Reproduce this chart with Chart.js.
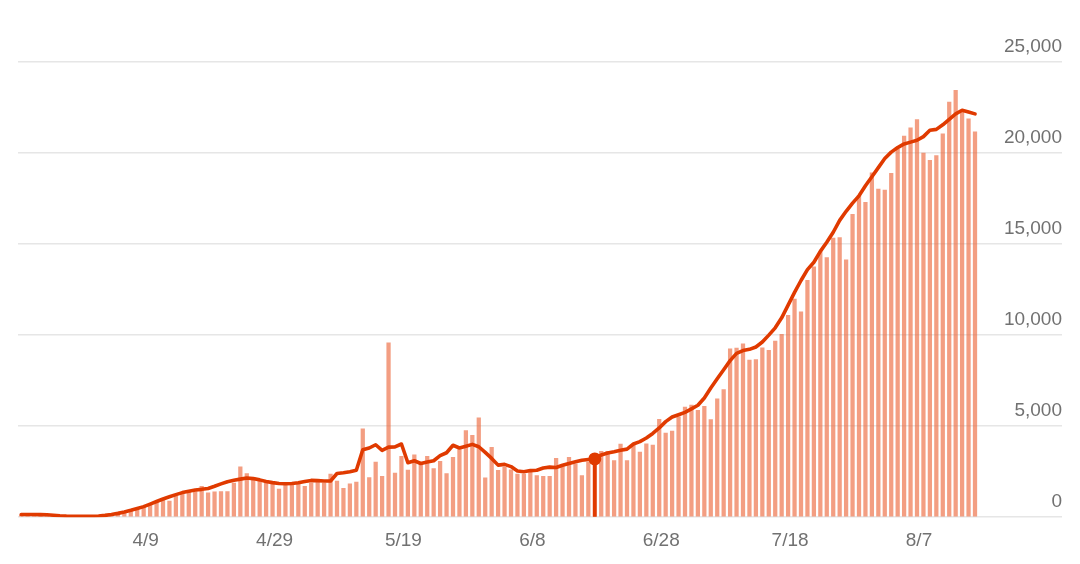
<!DOCTYPE html>
<html>
<head>
<meta charset="utf-8">
<script src="https://cdn.jsdelivr.net/npm/chart.js@4.4.1/dist/chart.umd.min.js"></script>
<style>
  html, body { margin: 0; padding: 0; background: #ffffff; }
  #wrap { width: 1080px; height: 564px; position: relative; }
</style>
</head>
<body>
<div id="wrap"><canvas id="c"></canvas></div>
<script>
// Categories: one per day, 3/21 .. 8/29 (axis runs past the last data day)
const marchDays  = ["3/21","3/22","3/23","3/24","3/25","3/26","3/27","3/28","3/29","3/30","3/31"];
const aprilDays  = ["4/1","4/2","4/3","4/4","4/5","4/6","4/7","4/8","4/9","4/10","4/11","4/12","4/13","4/14","4/15","4/16","4/17","4/18","4/19","4/20","4/21","4/22","4/23","4/24","4/25","4/26","4/27","4/28","4/29","4/30"];
const mayDays    = ["5/1","5/2","5/3","5/4","5/5","5/6","5/7","5/8","5/9","5/10","5/11","5/12","5/13","5/14","5/15","5/16","5/17","5/18","5/19","5/20","5/21","5/22","5/23","5/24","5/25","5/26","5/27","5/28","5/29","5/30","5/31"];
const juneDays   = ["6/1","6/2","6/3","6/4","6/5","6/6","6/7","6/8","6/9","6/10","6/11","6/12","6/13","6/14","6/15","6/16","6/17","6/18","6/19","6/20","6/21","6/22","6/23","6/24","6/25","6/26","6/27","6/28","6/29","6/30"];
const julyDays   = ["7/1","7/2","7/3","7/4","7/5","7/6","7/7","7/8","7/9","7/10","7/11","7/12","7/13","7/14","7/15","7/16","7/17","7/18","7/19","7/20","7/21","7/22","7/23","7/24","7/25","7/26","7/27","7/28","7/29","7/30","7/31"];
const augustDays = ["8/1","8/2","8/3","8/4","8/5","8/6","8/7","8/8","8/9","8/10","8/11","8/12","8/13","8/14","8/15","8/16","8/17","8/18","8/19","8/20","8/21","8/22","8/23","8/24","8/25","8/26","8/27","8/28","8/29"];
const dates = [].concat(marchDays, aprilDays, mayDays, juneDays, julyDays, augustDays);

// Tick labels shown on the x axis
const xTickLabels = ["4/9","4/29","5/19","6/8","6/28","7/18","8/7"];
// Y axis ticks
const yTicks = [0, 5000, 10000, 15000, 20000, 25000];

// Daily values (3/21 .. 8/16)
const dailyCases = [
  140,160,130,150,120,60,40,30,40,50,40,
  60,60,90,150,190,250,360,430,560,700,830,1030,900,1160,1340,1410,1430,1710,1360,1410,1430,1430,1890,2790,2420,2180,1980,1890,1830,1560,
  1800,1780,1850,1710,1890,1940,1890,2390,2000,1600,1850,1950,4865,2200,3050,2260,9600,2440,3360,2600,3450,2990,3360,2690,3080,2420,3300,3730,4770,4510,5470,
  2180,3855,2590,2760,2625,2390,2390,2500,2300,2260,2260,3250,2800,3300,2950,2300,3040,3300,3630,3630,3130,4040,3130,4020,3600,4050,3980,5390,4640,4750,
  5530,6060,6170,5890,6110,5380,6520,7030,9270,9300,9540,8650,8680,9320,9180,9690,10060,11100,12000,11300,13030,13770,14590,14280,15350,15370,14150,16650,17700,17310,18930,
  18040,17990,18900,20220,20950,21400,21860,20010,19620,19880,21070,22820,23460,22270,21900,21180
];

// Rolling average line (3/21 .. 8/16)
const averageCases = [
  150,148,145,140,135,110,80,60,50,45,45,
  50,65,100,150,210,290,380,480,580,720,860,1000,1120,1240,1350,1430,1490,1530,1580,1700,1830,1950,2030,2090,2150,2120,2050,1960,1900,1850,
  1840,1850,1890,1960,2020,2010,1990,1990,2400,2440,2500,2580,3700,3800,3980,3670,3850,3860,4020,2990,3100,2950,3030,3100,3380,3540,3950,3800,3900,4000,3870,
  3560,3230,2860,2900,2780,2540,2500,2560,2580,2700,2750,2730,2850,2950,3040,3130,3170,3200,3420,3530,3600,3680,3740,4020,4150,4350,4600,4900,5250,5500,
  5630,5760,5950,6150,6550,7100,7600,8100,8600,9000,9150,9220,9350,9620,10000,10400,10950,11650,12350,13000,13600,14000,14600,15100,15650,16300,16800,17250,17650,18200,18700,
  19200,19700,20050,20300,20500,20600,20700,20900,21250,21300,21550,21850,22150,22350,22250,22150
];

// Highlighted day on the average line
const markerDate = "6/18";

const markerIndex = dates.indexOf(markerDate);
const markerStem = dates.map((d, i) => i === markerIndex ? averageCases[i] : null);

const LINE_COLOR = '#e03a00';
const BAR_COLOR = 'rgba(236,104,60,0.64)';
const TEXT_COLOR = '#717171';
const FONT = '"Liberation Sans", Arial, Helvetica, sans-serif';

new Chart(document.getElementById('c'), {
  data: {
    labels: dates,
    datasets: [
      {
        type: 'line',
        data: averageCases,
        borderColor: LINE_COLOR,
        borderWidth: 3.6,
        tension: 0,
        borderJoinStyle: 'round',
        borderCapStyle: 'round',
        pointRadius: (ctx) => ctx.dataIndex === markerIndex ? 6.5 : 0,
        pointBackgroundColor: LINE_COLOR,
        pointBorderWidth: 0,
        order: 0
      },
      {
        type: 'bar',
        data: markerStem,
        backgroundColor: LINE_COLOR,
        barThickness: 3,
        grouped: false,
        order: 1
      },
      {
        type: 'bar',
        data: dailyCases,
        backgroundColor: BAR_COLOR,
        barPercentage: 0.66,
        categoryPercentage: 1.0,
        grouped: false,
        order: 2
      }
    ]
  },
  options: {
    responsive: true,
    maintainAspectRatio: false,
    animation: false,
    layout: { padding: { left: 18, right: 18, top: 62, bottom: 0 } },
    plugins: { legend: { display: false }, tooltip: { enabled: false } },
    scales: {
      x: {
        type: 'category',
        offset: true,
        grid: { display: false, drawTicks: false },
        border: { display: false },
        ticks: {
          autoSkip: false,
          maxRotation: 0,
          minRotation: 0,
          padding: 12,
          labelOffset: 2,
          color: TEXT_COLOR,
          font: { family: FONT, size: 19 },
          callback: function (value) {
            const lab = this.getLabelForValue(value);
            return xTickLabels.includes(lab) ? lab : null;
          }
        }
      },
      y: {
        position: 'right',
        min: 0,
        max: 25000,
        afterBuildTicks: (axis) => { axis.ticks = yTicks.map(v => ({ value: v })); },
        grid: { color: '#e6e6e6', lineWidth: 1.6, drawTicks: false },
        border: { display: false },
        ticks: {
          mirror: true,
          padding: 0,
          labelOffset: -15,
          color: TEXT_COLOR,
          font: { family: FONT, size: 19 },
          callback: (v) => Number(v).toLocaleString('en-US')
        }
      }
    }
  }
});
</script>
</body>
</html>
